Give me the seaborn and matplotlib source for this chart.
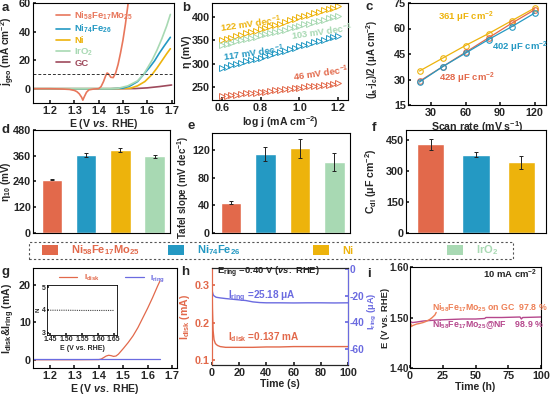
import matplotlib
matplotlib.use('Agg')
import matplotlib.pyplot as plt
import seaborn as sns
from matplotlib.patches import Patch, Rectangle
from matplotlib.lines import Line2D

sns.set_theme(style='ticks')
plt.rcParams['font.family'] = ['Liberation Sans', 'DejaVu Sans']
plt.rcParams['font.weight'] = 'bold'
plt.rcParams['axes.labelweight'] = 'bold'
plt.rcParams['axes.unicode_minus'] = False
plt.rcParams['mathtext.fontset'] = 'custom'
plt.rcParams['mathtext.rm'] = 'Liberation Sans:bold'
plt.rcParams['mathtext.it'] = 'Liberation Sans:italic:bold'
plt.rcParams['mathtext.bf'] = 'Liberation Sans:bold'
plt.rcParams['mathtext.default'] = 'rm'
plt.rcParams['xtick.direction'] = 'in'
plt.rcParams['ytick.direction'] = 'in'
plt.rcParams['xtick.labelsize'] = 7.8
plt.rcParams['ytick.labelsize'] = 7.8
plt.rcParams['axes.labelsize'] = 7.6
plt.rcParams['xtick.major.size'] = 2.5
plt.rcParams['ytick.major.size'] = 2.5
plt.rcParams['xtick.major.pad'] = 2
plt.rcParams['ytick.major.pad'] = 1.5
plt.rcParams['axes.linewidth'] = 0.8
plt.rcParams['axes.labelpad'] = 1

# colours
C_MO = '#E2694B'
C_FE = '#2499C3'
C_NI = '#EDB30C'
C_IR = '#A8D9B3'
C_GC = '#9E4A5C'
C_RING = '#6B6BE0'
C_NF = '#B5478C'

# names
materials = [r'Ni$_{58}$Fe$_{17}$Mo$_{25}$', r'Ni$_{74}$Fe$_{26}$', 'Ni', r'IrO$_{2}$']

# panel a: LSV curves
E_mo = [1.13, 1.20, 1.25, 1.28, 1.30, 1.31, 1.32, 1.33, 1.335, 1.34, 1.35, 1.36, 1.38, 1.40,
        1.41, 1.42, 1.43, 1.435, 1.44, 1.45, 1.46, 1.47, 1.48, 1.49, 1.50, 1.51, 1.52, 1.53]
j_mo = [0, 0, -0.2, -0.5, -1.2, -2, -3.5, -6, -8, -6, -2.5, -0.8, -0.2, 0,
        1.5, 5, 9.5, 11, 10.5, 8, 7.8, 11, 17, 25, 34, 45, 58, 72]
E_fe = [1.13, 1.30, 1.45, 1.50, 1.53, 1.56, 1.585, 1.61, 1.63, 1.65, 1.67, 1.695]
j_fe = [0, 0, 0, 0.4, 2, 5, 10, 15, 19.5, 25, 30, 36]
E_ni = [1.13, 1.30, 1.45, 1.53, 1.56, 1.59, 1.62, 1.64, 1.66, 1.68, 1.695]
j_ni = [0, 0, 0, 0.3, 2, 5, 10, 14.5, 19.5, 24.5, 28]
E_ir = [1.13, 1.30, 1.45, 1.48, 1.52, 1.56, 1.585, 1.62, 1.64, 1.66, 1.68, 1.695]
j_ir = [0, 0, 0, 0.3, 2, 5.5, 10, 20, 27, 35, 44, 52]
E_gc = [1.13, 1.30, 1.45, 1.55, 1.60, 1.65, 1.70]
j_gc = [0, 0, 0, 0.1, 0.6, 1.5, 2.6]

# panel b: Tafel plots
logj = [0.600, 0.625, 0.650, 0.675, 0.700, 0.725, 0.750, 0.775, 0.800, 0.825, 0.850, 0.875, 0.900,
        0.925, 0.950, 0.975, 1.000, 1.025, 1.050, 1.075, 1.100, 1.125, 1.150, 1.175, 1.200]
eta_ni = [350, 353, 356, 359, 362, 365, 368, 371, 374, 377, 380, 383, 386,
          390, 393, 396, 399, 402, 405, 408, 411, 414, 417, 420, 423]
eta_ir = [340, 343, 345, 348, 350, 353, 355, 358, 361, 363, 366, 368, 371,
          373, 376, 379, 381, 384, 386, 389, 391, 394, 397, 399, 402]
eta_fe = [290, 293, 296, 299, 302, 305, 308, 310, 313, 316, 319, 322, 325,
          328, 331, 334, 337, 340, 343, 346, 349, 351, 354, 357, 360]
eta_mo = [230, 231, 232, 233, 235, 236, 237, 238, 239, 240, 242, 243, 244,
          245, 246, 247, 248, 250, 251, 252, 253, 254, 255, 256, 258]

# panel c: capacitive current vs scan rate
scan = [20, 40, 60, 80, 100, 120]
cap_ni = [35, 42.5, 50, 57, 64.5, 72]
cap_mo = [29, 37.5, 46, 54.5, 63, 71]
cap_fe = [28.5, 37.5, 45.5, 53.5, 61, 69]

# panels d-f: bars
eta10 = [248, 363, 388, 358]
eta10_err = [3, 8, 9, 7]
tafel = [44, 114, 123, 103]
tafel_err = [2, 10, 14, 13]
cdl = [430, 380, 343]
cdl_err = [25, 12, 32]

# panel g: RRDE
E_rrde = [1.13, 1.20, 1.30, 1.40, 1.41, 1.42, 1.43, 1.44, 1.45, 1.46, 1.47, 1.48, 1.50,
          1.52, 1.54, 1.56, 1.58, 1.60, 1.62, 1.64, 1.65]
I_disk = [0, 0, 0, 0.05, 0.2, 0.6, 1.0, 1.2, 1.1, 0.9, 1.0, 1.5, 3.0,
          4.6, 6.4, 8.6, 11.2, 13.8, 16.6, 19.6, 21.0]
I_ring = [0.1, 0.1, 0.1, 0.1, 0.1, 0.1, 0.1, 0.1, 0.1, 0.1, 0.1, 0.1, 0.1,
          0.1, 0.1, 0.1, 0.1, 0.1, 0.1, 0.1, 0.1]
E_n = [1.45, 1.50, 1.55, 1.60, 1.65]
N_e = [3.99, 3.99, 3.98, 3.98, 3.98]

# panel h: chronoamperometry
t_disk = [0, 0.3, 0.8, 1.5, 2.5, 4, 6, 10, 20, 30, 40, 50, 60, 70, 80, 90, 100]
i_disk_t = [0.33, 0.24, 0.18, 0.155, 0.145, 0.14, 0.137, 0.135, 0.135, 0.135, 0.136,
            0.136, 0.137, 0.137, 0.137, 0.137, 0.137]
t_ring = [0, 0.3, 0.8, 1.5, 3, 6, 10, 15, 20, 25, 30, 35, 40, 50, 60, 70, 80, 90, 100]
i_ring_t = [-14, -17, -19, -20, -21, -21.5, -22, -22.5, -23, -23.5, -24.5, -25, -25.2,
            -25.2, -25.3, -25.2, -25.2, -25.3, -25.2]

# panel i: stability
t_gc = [0, 0.5, 1, 2, 3, 5, 7, 10, 12, 15, 17, 19, 20]
V_gc = [1.475, 1.488, 1.482, 1.484, 1.485, 1.487, 1.488, 1.490, 1.492, 1.496, 1.500, 1.505, 1.510]
t_nf = [0, 2, 5, 10, 20, 30, 40, 50, 57, 58, 70, 84, 85, 86, 100]
V_nf = [1.492, 1.490, 1.491, 1.493, 1.495, 1.496, 1.497, 1.497, 1.498, 1.500, 1.500, 1.501,
        1.497, 1.500, 1.501]

W, H = 554, 397
fig = plt.figure(figsize=(W / 100, H / 100), dpi=100)


def box(x0, y0, x1, y1):
    ax = fig.add_axes([x0 / W, 1 - y1 / H, (x1 - x0) / W, (y1 - y0) / H])
    for s in ax.spines.values():
        s.set_visible(True)
        s.set_color('black')
    return ax


def letter(x, y, s):
    fig.text(x / W, 1 - y / H, s, fontsize=9.5, fontweight='bold', va='center', ha='left')


vs = r'$\mathit{vs.}$'

# ---- a
ax = box(33, 3, 174, 103)
for E, j, c in [(E_gc, j_gc, C_GC), (E_ni, j_ni, C_NI), (E_fe, j_fe, C_FE),
                (E_ir, j_ir, C_IR), (E_mo, j_mo, '#E8775C')]:
    sns.lineplot(x=E, y=j, color=c, lw=1.2, ax=ax)
ax.axhline(10, color='#333333', lw=0.7, ls=(0, (3, 2)))
ax.set_xlim(1.13, 1.71)
ax.set_ylim(-10, 60)
ax.set_xticks([1.2, 1.3, 1.4, 1.5, 1.6, 1.7])
ax.set_yticks([0, 20, 40, 60])
ax.set_xlabel('E (V ' + vs + ' RHE)')
ax.set_ylabel(r'j$_{geo}$ (mA cm$^{-2}$)', fontsize=7.3)
ax.yaxis.set_label_coords(-0.11, 0.52)
handles = [Line2D([], [], color=c, lw=1.2) for c in ['#E8775C', C_FE, C_NI, C_IR, C_GC]]
ax.legend(handles, materials + ['GC'], loc='upper left', bbox_to_anchor=(0.1, 1.02),
          frameon=False, fontsize=6.8, handlelength=1.5, labelspacing=0.1,
          handletextpad=0.5, labelcolor='linecolor')
letter(2, 8, 'a')

# ---- b
ax = box(212, 3, 348, 100)
for eta, c in [(eta_ni, C_NI), (eta_ir, C_IR), (eta_fe, C_FE), (eta_mo, C_MO)]:
    sns.lineplot(x=logj, y=eta, color=c, marker='>', ls='', mfc='none', mec=c,
                 mew=0.7, ms=4, ax=ax)
ax.set_xlim(0.55, 1.25)
ax.set_ylim(222, 430)
ax.set_xticks([0.6, 0.8, 1.0, 1.2])
ax.set_yticks([250, 300, 350, 400])
ax.set_xlabel(r'log j (mA cm$^{-2}$)')
ax.set_ylabel('η (mV)')
ax.yaxis.set_label_coords(-0.145, 0.5)
kw = dict(fontsize=6.8, fontweight='bold', rotation=8)
ax.text(0.585, 367, r'122 mV dec$^{-1}$', color=C_NI, **kw)
ax.text(0.95, 350, r'103 mV dec$^{-1}$', color=C_IR, **kw)
ax.text(0.60, 306, r'117 mV dec$^{-1}$', color=C_FE, **kw)
ax.text(0.96, 263, r'46 mV dec$^{-1}$', color=C_MO, **kw)
letter(182, 8, 'b')

# ---- c
ax = box(408, 3, 546, 105)
for cap, c in [(cap_ni, C_NI), (cap_mo, C_MO), (cap_fe, C_FE)]:
    sns.lineplot(x=scan, y=cap, color=c, marker='o', mfc='none', mec=c, mew=0.8,
                 ms=4, lw=0.9, ax=ax)
ax.set_xlim(10, 130)
ax.set_ylim(15, 75)
ax.set_xticks([30, 60, 90, 120])
ax.set_yticks([15, 30, 45, 60, 75])
ax.set_xlabel(r'Scan rate (mV s$^{-1}$)')
ax.set_ylabel(r'(j$_{a}$-j$_{c}$)/2 (μA cm$^{-2}$)', fontsize=6.9)
ax.yaxis.set_label_coords(-0.205, 0.45)
ax.text(36, 65, r'361 μF cm$^{-2}$', color=C_NI, fontsize=6.8, fontweight='bold')
ax.text(83, 47.5, r'402 μF cm$^{-2}$', color=C_FE, fontsize=6.8, fontweight='bold')
ax.text(37, 29, r'428 μF cm$^{-2}$', color=C_MO, fontsize=6.8, fontweight='bold')
letter(366, 7, 'c')


# ---- bars
def bars(ax, vals, errs, cols):
    sns.barplot(x=materials[:len(vals)], y=vals, hue=materials[:len(vals)], palette=cols,
                legend=False, width=0.6, saturation=1, ax=ax)
    ax.errorbar(range(len(vals)), vals, yerr=errs, fmt='none', ecolor='#222222',
                elinewidth=0.7, capsize=1.5, capthick=0.7)
    ax.set_xticks([])
    ax.set_xlabel('')


ax = box(33, 130, 170, 233)
bars(ax, eta10, eta10_err, [C_MO, C_FE, C_NI, C_IR])
ax.set_xlim(-0.55, 3.45)
ax.set_ylim(0, 480)
ax.set_yticks([0, 120, 240, 360, 480])
ax.set_ylabel('η$_{10}$ (mV)', fontsize=7.2)
ax.yaxis.set_label_coords(-0.143, 0.5)
letter(2, 130, 'd')

ax = box(212, 133, 350, 233)
bars(ax, tafel, tafel_err, [C_MO, C_FE, C_NI, C_IR])
ax.set_xlim(-0.55, 3.45)
ax.set_ylim(0, 145)
ax.set_yticks([0, 40, 80, 120])
ax.set_ylabel(r'Tafel slope (mV dec$^{-1}$)', fontsize=6.9)
ax.yaxis.set_label_coords(-0.15, 0.46)
letter(188, 126, 'e')

ax = box(406, 130, 546, 233)
bars(ax, cdl, cdl_err, [C_MO, C_FE, C_NI])
ax.set_xlim(-0.55, 2.55)
ax.set_ylim(0, 500)
ax.set_yticks([0, 150, 300, 450])
ax.set_ylabel(r'C$_{dl}$ (μF cm$^{-2}$)')
ax.yaxis.set_label_coords(-0.19, 0.5)
letter(372, 128, 'f')

# ---- legend row
fig.add_artist(Rectangle((29 / W, 1 - 259 / H), (513 - 29) / W, 17 / H,
                         transform=fig.transFigure, fill=False, ec='#555555',
                         lw=0.8, ls=(0, (2, 2))))
for x0, name, c in zip([42, 168, 313, 447], materials, [C_MO, C_FE, C_NI, C_IR]):
    fig.legend([Patch(fc=c, ec='none')], [name], loc='center left',
               bbox_to_anchor=(x0 / W, 1 - 250.5 / H), frameon=False, fontsize=8,
               handlelength=1.4, handleheight=1.0, handletextpad=1.2,
               borderpad=0, borderaxespad=0, labelcolor=[c])

# ---- g
ax = box(33, 268, 177, 368)
sns.lineplot(x=E_rrde, y=I_disk, color=C_MO, lw=0.9, ax=ax)
sns.lineplot(x=E_rrde, y=I_ring, color=C_RING, lw=0.9, ax=ax)
ax.set_xlim(1.13, 1.72)
ax.set_ylim(-2.2, 24.5)
ax.set_xticks([1.2, 1.3, 1.4, 1.5, 1.6, 1.7])
ax.set_yticks([0, 10, 20])
ax.set_xlabel('E (V ' + vs + ' RHE)')
ax.set_ylabel(r'I$_{disk}$&I$_{ring}$ (mA)')
ax.yaxis.set_label_coords(-0.11, 0.5)
ax.legend([Line2D([], [], color=C_MO, lw=0.9), Line2D([], [], color=C_RING, lw=0.9)],
          [r'I$_{disk}$', r'I$_{ring}$'], loc='upper center', bbox_to_anchor=(0.55, 1.03),
          ncol=2, frameon=False, fontsize=6, handlelength=2.2, columnspacing=3,
          labelcolor='linecolor')
ins = box(47, 285, 117, 335)
sns.lineplot(x=E_n, y=N_e, color='#444444', lw=0.8, ls=(0, (1, 1)), ax=ins)
ins.set_xlim(1.44, 1.66)
ins.set_ylim(2.9, 5.1)
ins.set_xticks([1.45, 1.50, 1.55, 1.60, 1.65])
ins.set_yticks([3, 4, 5])
ins.tick_params(labelsize=5, length=1.5, pad=1)
ins.set_xlabel('E (V vs. RHE)', fontsize=5, labelpad=1)
ins.set_ylabel('N', fontsize=4.5, labelpad=1)
for s in ins.spines.values():
    s.set_linewidth(0.6)
letter(2, 272, 'g')

# ---- h
ax = box(212, 268, 348, 365)
sns.lineplot(x=t_disk, y=i_disk_t, color=C_MO, lw=1.0, ax=ax)
ax.set_xlim(0, 100)
ax.set_ylim(0.088, 0.346)
ax.set_xticks([0, 20, 40, 60, 80, 100])
ax.set_yticks([0.1, 0.2, 0.3])
ax.set_xlabel('Time (s)')
ax.set_ylabel(r'I$_{disk}$ (mA)', color=C_MO)
ax.yaxis.set_label_coords(-0.15, 0.5)
ax.tick_params(axis='y', colors=C_MO)
ax.spines['left'].set_color(C_MO)
ax2 = ax.twinx()
sns.lineplot(x=t_ring, y=i_ring_t, color=C_RING, lw=1.0, ax=ax2)
ax2.set_ylim(-72, 1)
ax2.set_yticks([0, -20, -40, -60])
ax2.set_ylabel(r'I$_{ring}$ (μA)', color=C_RING, fontsize=6.6)
ax2.yaxis.set_label_coords(1.135, 0.55)
ax2.tick_params(axis='y', colors=C_RING, direction='in', labelsize=7.4, pad=1)
ax2.spines['right'].set_color(C_RING)
ax2.spines['left'].set_color(C_MO)
ax.text(4, 0.333, 'E$_{ring}$ =0.40 V (' + vs + ' RHE)', fontsize=6.8, fontweight='bold',
        color='#222222', va='center')
ax.text(12, 0.27, r'I$_{ring}$ =25.18 μA', fontsize=7.2, fontweight='bold', color=C_RING,
        va='center')
ax.text(12, 0.162, r'I$_{disk}$ =0.137 mA', fontsize=7.2, fontweight='bold', color=C_MO,
        va='center')
letter(181, 272, 'h')

# ---- i
ax = box(410, 267, 541, 368)
sns.lineplot(x=t_nf, y=V_nf, color=C_NF, lw=1.0, ax=ax)
sns.lineplot(x=t_gc, y=V_gc, color='#EE7F55', lw=1.0, ax=ax)
ax.set_xlim(0, 100)
ax.set_ylim(1.40, 1.60)
ax.set_xticks([0, 25, 50, 75, 100])
ax.set_yticks([1.40, 1.50, 1.60])
ax.tick_params(axis='y', labelsize=7.2, pad=1)
ax.yaxis.set_major_formatter(matplotlib.ticker.FormatStrFormatter('%.2f'))
ax.set_xlabel('Time (h)')
ax.set_ylabel('E (V vs. RHE)', fontsize=6.8)
ax.yaxis.set_label_coords(-0.155, 0.5)
ax.text(97, 1.585, r'10 mA cm$^{-2}$', fontsize=6.8, fontweight='bold', ha='right', va='center')
ax.text(17, 1.52, r'Ni$_{58}$Fe$_{17}$Mo$_{25}$ on GC  97.8 %', fontsize=6.3,
        fontweight='bold', color='#EE7F55', va='center')
ax.text(17, 1.486, r'Ni$_{58}$Fe$_{17}$Mo$_{25}$@NF    98.9 %', fontsize=6.3,
        fontweight='bold', color=C_NF, va='center')
letter(367, 274, 'i')

fig.savefig('out.png', dpi=100)
